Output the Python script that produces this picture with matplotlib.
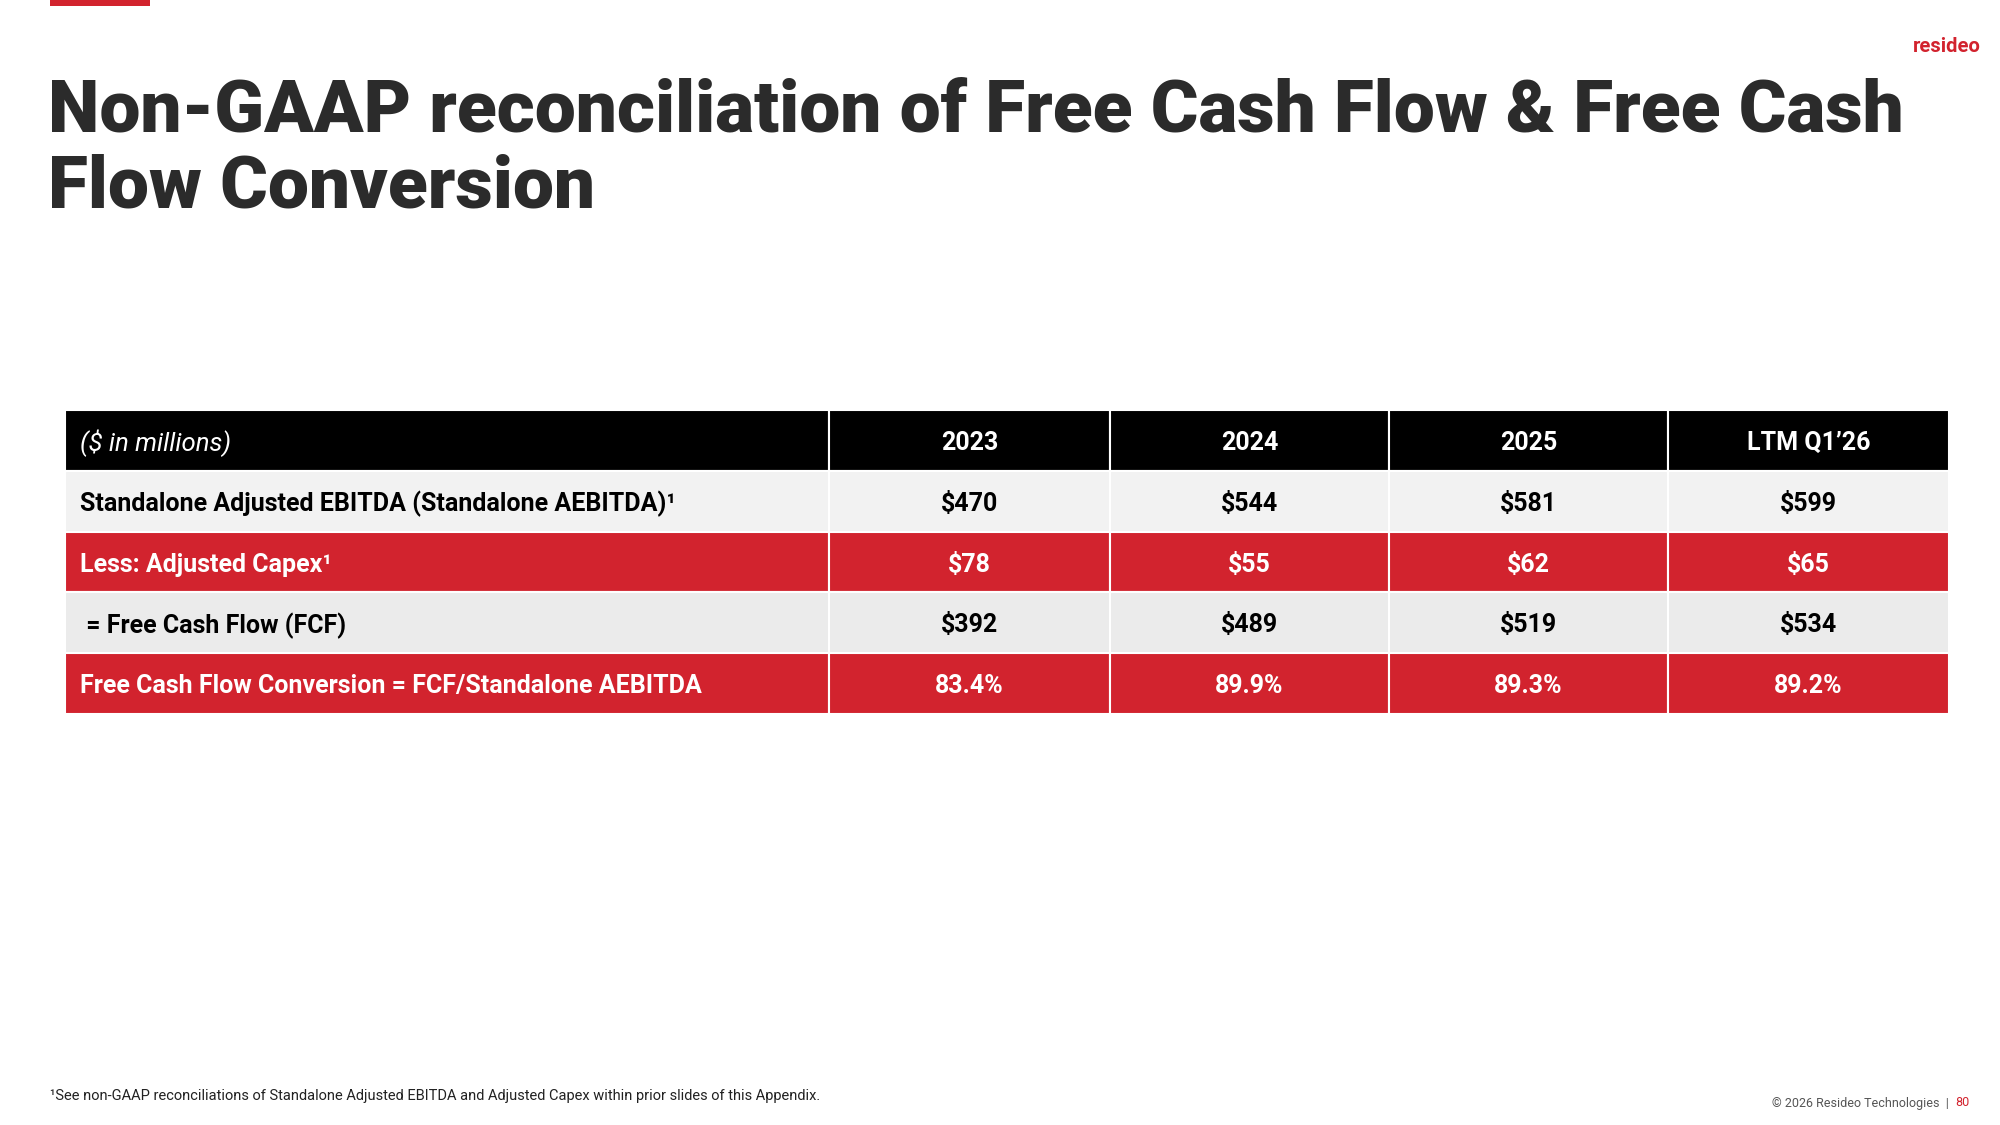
import matplotlib
matplotlib.use("Agg")
import matplotlib.pyplot as plt
from matplotlib.patches import Rectangle

# ---- data ----
title_lines = ["Non-GAAP reconciliation of Free Cash Flow & Free Cash", "Flow Conversion"]
unit_label = "($ in millions)"
periods = ["2023", "2024", "2025", "LTM Q1\u201926"]
row_labels = [
    "Standalone Adjusted EBITDA (Standalone AEBITDA)\u00b9",
    "Less: Adjusted Capex\u00b9",
    " = Free Cash Flow (FCF)",
    "Free Cash Flow Conversion = FCF/Standalone AEBITDA",
]
ebitda = [470, 544, 581, 599]
capex = [78, 55, 62, 65]
fcf = [392, 489, 519, 534]
fcf_conversion = [83.4, 89.9, 89.3, 89.2]
footnote = "\u00b9See non-GAAP reconciliations of Standalone Adjusted EBITDA and Adjusted Capex within prior slides of this Appendix."
copyright_text = "\u00a9 2026 Resideo Technologies  |"
page_number = "80"
brand = "resideo"

RED = "#D2232E"
DARK = "#2B2B2B"

plt.rcParams["font.family"] = ["Roboto", "DejaVu Sans"]

W, H = 2000, 1125
fig = plt.figure(figsize=(20, 11.25), dpi=100)
ax = fig.add_axes([0, 0, 1, 1])
ax.set_xlim(0, W)
ax.set_ylim(H, 0)
ax.axis("off")

# top accent bar
ax.add_patch(Rectangle((50, 0), 100, 6, color=RED, lw=0))
# brand
ax.text(1981, 46, brand, color=RED, fontsize=14.5, fontweight="bold",
        ha="right", va="center")

# title
ax.text(48, 132, title_lines[0], fontsize=52.6, fontweight="black", color=DARK,
        ha="left", va="baseline")
ax.text(48, 208, title_lines[1], fontsize=52.6, fontweight="black", color=DARK,
        ha="left", va="baseline")

# table
rows = [
    ["$%d" % v for v in ebitda],
    ["$%d" % v for v in capex],
    ["$%d" % v for v in fcf],
    ["%.1f%%" % v for v in fcf_conversion],
]
cell_text = [[unit_label] + periods] + [[lab] + vals for lab, vals in zip(row_labels, rows)]
row_bg = ["#000000", "#F2F2F2", RED, "#EBEBEB", RED]
row_fg = ["white", "black", "white", "black", "white"]

x0, x1, y0, y1 = 65, 1949, 410, 714
col_w = [764, 281, 279, 279, 281]
tbl = ax.table(cellText=cell_text,
               colWidths=[c / sum(col_w) for c in col_w],
               bbox=[x0 / W, 1 - y1 / H, (x1 - x0) / W, (y1 - y0) / H],
               cellLoc="center")
tbl.auto_set_font_size(False)
for (r, c), cell in tbl.get_celld().items():
    cell.set_facecolor(row_bg[r])
    cell.set_edgecolor("white")
    cell.set_linewidth(1.5)
    t = cell.get_text()
    t.set_color(row_fg[r])
    t.set_fontsize(18)
    t.set_va("center_baseline")
    if c == 0:
        cell.PAD = 0.02
        t.set_ha("left")
        cell._loc = "left"
        if r == 0:
            t.set_fontstyle("italic")
            t.set_fontweight("normal")
            t.set_fontsize(18.5)
        else:
            t.set_fontweight("bold")
    else:
        t.set_fontweight("bold")

# footnote and footer
ax.text(50, 1096, footnote, fontsize=10.5, color="#222222", ha="left", va="center")
ax.text(1969, 1103, page_number, fontsize=9, color=RED, ha="right", va="center")
ax.text(1949, 1103, copyright_text, fontsize=9, color="#555555",
        ha="right", va="center")

fig.savefig("out.png", dpi=100, facecolor="white")
